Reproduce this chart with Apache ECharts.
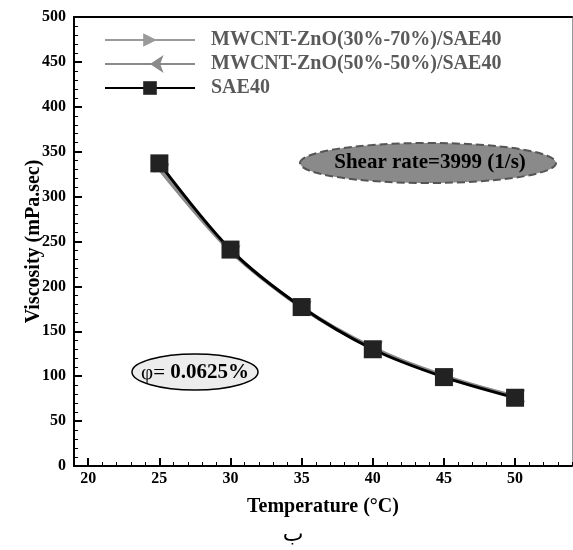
<!DOCTYPE html>
<html><head><meta charset="utf-8">
<script src="https://cdn.jsdelivr.net/npm/echarts@6/dist/echarts.min.js"></script>
<style>html,body{margin:0;padding:0;background:#fff}#c{width:573px;height:550px}</style>
</head><body><div id="c"></div>
<script>
var temperature = [25, 30, 35, 40, 45, 50];
var mix3070 = [332, 240, 176, 131, 101, 77];
var mix5050 = [330, 239, 177, 132, 100, 78];
var sae40 = [337, 241, 177, 130, 99, 76];
var xTickLabels = [20, 25, 30, 35, 40, 45, 50];
var seriesNames = ['MWCNT-ZnO(30%-70%)/SAE40', 'MWCNT-ZnO(50%-50%)/SAE40', 'SAE40'];

var F = '"Liberation Serif", "Times New Roman", serif';
function pairs(xs, ys){ return xs.map(function(x,i){return [x, ys[i]];}); }

var chart = echarts.init(document.getElementById('c'), null, {renderer:'canvas'});
chart.setOption({
  animation: false,
  backgroundColor: '#fff',
  grid: {left: 74, right: 1, top: 17, bottom: 84, containLabel: false},
  legend: {
    orient: 'vertical', left: 99, top: 25, itemWidth: 90, itemHeight: 17, itemGap: 4,
    data: [
      {name: seriesNames[0], itemStyle:{color:'#9a9a9a'}},
      {name: seriesNames[1], itemStyle:{color:'#8a8a8a'}},
      {name: seriesNames[2]}
    ],
    textStyle: {fontFamily: F, fontWeight: 'bold', fontSize: 20, color: '#5a5a5a', padding: [0,0,0,11]}
  },
  xAxis: [
    {type:'value', min:19, max:54, position:'bottom',
     name:'Temperature (°C)', nameLocation:'middle', nameGap: 31,
     nameTextStyle:{fontFamily:F, fontWeight:'bold', fontSize:20, color:'#000'},
     axisLine:{show:true, onZero:false, lineStyle:{color:'#000', width:2}},
     axisTick:{show:true, inside:true, length:8, customValues: xTickLabels, lineStyle:{color:'#000', width:2}},
     axisLabel:{customValues: xTickLabels, fontFamily:F, fontWeight:'bold', fontSize:16, color:'#000', margin:5},
     splitLine:{show:false}},
    {type:'value', min:19, max:54, interval:1, position:'bottom',
     axisLine:{show:false}, axisLabel:{show:false},
     axisTick:{show:true, inside:true, length:4, lineStyle:{color:'#000', width:1}},
     splitLine:{show:false}},
    {type:'value', min:19, max:54, position:'top',
     axisLine:{show:true, onZero:false, lineStyle:{color:'#000', width:2}},
     axisTick:{show:false}, axisLabel:{show:false}, splitLine:{show:false}}
  ],
  yAxis: [
    {type:'value', min:0, max:500, interval:50, position:'left',
     name:'Viscosity (mPa.sec)', nameLocation:'middle', nameGap: 30, nameRotate: 90,
     nameMoveOverlap: false,
     nameTextStyle:{fontFamily:F, fontWeight:'bold', fontSize:20, color:'#000'},
     axisLine:{show:true, onZero:false, lineStyle:{color:'#000', width:2}},
     axisTick:{show:true, inside:true, length:8, lineStyle:{color:'#000', width:2}},
     minorTick:{show:true, splitNumber:5, length:4, lineStyle:{color:'#000', width:1}},
     axisLabel:{fontFamily:F, fontWeight:'bold', fontSize:16, color:'#000', margin:8},
     splitLine:{show:false}},
    {type:'value', min:0, max:500, interval:50, position:'right',
     axisLine:{show:true, onZero:false, lineStyle:{color:'#999', width:1}},
     axisTick:{show:false}, axisLabel:{show:false}, splitLine:{show:false}}
  ],
  series: [
    {name: seriesNames[0], type:'line', smooth:0.3, data: pairs(temperature, mix3070),
     symbol:'triangle', symbolSize:10, symbolRotate:-90, z:2,
     lineStyle:{color:'#9a9a9a', width:3}, itemStyle:{color:'#9a9a9a'}},
    {name: seriesNames[1], type:'line', smooth:0.3, data: pairs(temperature, mix5050),
     symbol:'arrow', symbolSize:10, symbolRotate:90, z:3,
     lineStyle:{color:'#8a8a8a', width:3}, itemStyle:{color:'#8a8a8a'}},
    {name: seriesNames[2], type:'line', smooth:0.3, data: pairs(temperature, sae40),
     symbol:'rect', symbolSize:18, z:4,
     lineStyle:{color:'#000', width:3}, itemStyle:{color:'#222'}}
  ],
  graphic: [
    {type:'ellipse', shape:{cx:428, cy:163, rx:128, ry:20}, z:10,
     style:{fill:'#8a8a8a', stroke:'#555', lineWidth:2, lineDash:[8,4]}},
    {type:'text', x:430, y:163, z:11,
     style:{text:'Shear rate=3999 (1/s)', font:'bold 21px "Liberation Serif", serif', fill:'#000', align:'center', verticalAlign:'middle'}},
    {type:'ellipse', shape:{cx:195, cy:372, rx:63, ry:18}, z:10,
     style:{fill:'#ececec', stroke:'#000', lineWidth:1.5}},
    {type:'text', x:195, y:373, z:11,
     style:{text:'{a|φ= }{b|0.0625%}', align:'center', verticalAlign:'middle',
       rich:{a:{font:'21px "Liberation Serif", serif', fill:'#000'},
             b:{font:'bold 21px "Liberation Serif", serif', fill:'#000'}}}},
    {type:'text', x:293, y:535, z:11,
     style:{text:'ب', font:'22px "DejaVu Sans", sans-serif', fill:'#000', align:'center', verticalAlign:'middle'}}
  ]
});
</script></body></html>
